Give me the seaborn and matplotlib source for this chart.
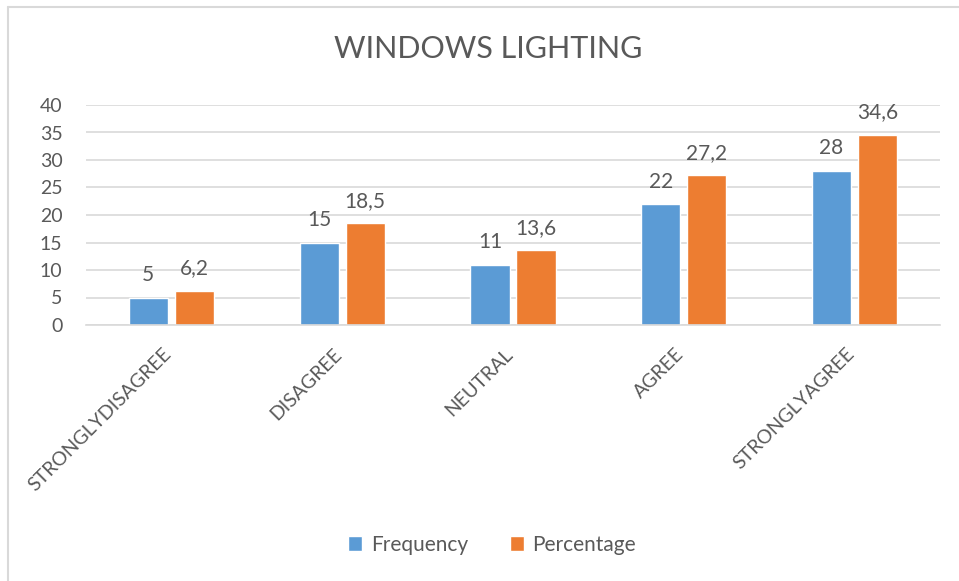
import matplotlib
matplotlib.use("Agg")
import matplotlib.pyplot as plt
import matplotlib.transforms as mtransforms
from matplotlib.lines import Line2D
import seaborn as sns
import pandas as pd

categories = ["STRONGLYDISAGREE", "DISAGREE", "NEUTRAL", "AGREE", "STRONGLYAGREE"]
frequency = [5, 15, 11, 22, 28]
percentage = [6.2, 18.5, 13.6, 27.2, 34.6]
series_names = ["Frequency", "Percentage"]
y_ticks = [0, 5, 10, 15, 20, 25, 30, 35, 40]

BLUE = "#5B9BD5"
ORANGE = "#ED7D31"
TEXT = "#595959"
GRID = "#D9D9D9"

df = pd.DataFrame({
    "category": categories * 2,
    "value": frequency + percentage,
    "series": [series_names[0]] * len(categories) + [series_names[1]] * len(categories),
})

sns.set_theme(style="white")
plt.rcParams["font.family"] = ["Lato", "DejaVu Sans"]

W, H = 959, 581
fig = plt.figure(figsize=(W / 100, H / 100), dpi=100)
ax = fig.add_axes([86 / W, 1 - 325 / H, (940 - 86) / W, (325 - 105) / H])

sns.barplot(data=df, x="category", y="value", hue="series",
            palette=[BLUE, ORANGE], saturation=1, width=0.54, gap=0.15,
            order=categories, hue_order=series_names, ax=ax, legend=True)

ax.set_ylim(0, 40)
ax.set_xlim(-0.5, len(categories) - 0.5)
ax.set_yticks(y_ticks)
ax.set_xlabel("")
ax.set_ylabel("")
ax.yaxis.grid(True, color=GRID, linewidth=1.2)
ax.set_axisbelow(True)
for s in ["top", "right", "left"]:
    ax.spines[s].set_visible(False)
ax.spines["bottom"].set_color(GRID)
ax.spines["bottom"].set_linewidth(1.2)

ax.tick_params(axis="y", length=0, pad=17, labelsize=14, labelcolor=TEXT)
ax.tick_params(axis="x", length=0, pad=0, labelsize=14, labelcolor=TEXT)
ax.set_xticks(range(len(categories)))
ax.set_xticklabels(categories, rotation=45, ha="right", rotation_mode="anchor")
offset = mtransforms.ScaledTranslation(-3 / 100, -26 / 100, fig.dpi_scale_trans)
for lbl in ax.get_xticklabels():
    lbl.set_va("center")
    lbl.set_transform(lbl.get_transform() + offset)

for cont in ax.containers:
    vals = [b.get_height() for b in cont]
    ax.bar_label(cont, labels=[f"{v:g}".replace(".", ",") for v in vals],
                 padding=9, fontsize=15, color=TEXT)

handles, labels = ax.get_legend_handles_labels()
ax.get_legend().remove()
fig.legend(handles, labels, loc="center", bbox_to_anchor=(492 / W, 1 - 545 / H),
           ncol=2, frameon=False, fontsize=15, labelcolor=TEXT,
           handlelength=0.7, handleheight=0.7, handletextpad=0.4, columnspacing=2.0)

fig.text(488 / W, 1 - 49 / H, "WINDOWS LIGHTING", ha="center", va="center",
         fontsize=22, color=TEXT)

fig.add_artist(Line2D([8 / W, 8 / W], [0, 1 - 7 / H], transform=fig.transFigure,
                      color=GRID, linewidth=1.5))
fig.add_artist(Line2D([8 / W, 1], [1 - 7 / H, 1 - 7 / H], transform=fig.transFigure,
                      color=GRID, linewidth=1.5))

fig.savefig("out.png", dpi=100, facecolor="white")
